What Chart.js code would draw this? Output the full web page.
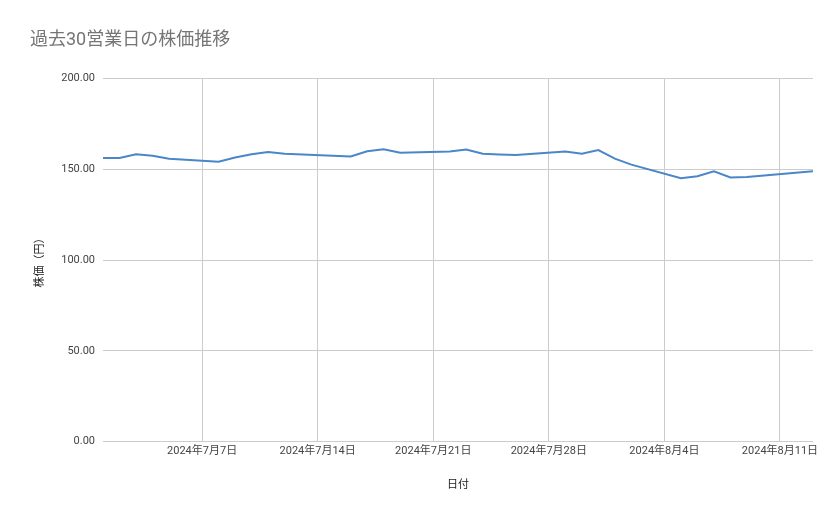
<!DOCTYPE html>
<html><head><meta charset="utf-8">
<script src="https://cdn.jsdelivr.net/npm/chart.js@4"></script>
<style>body{margin:0;background:#fff}#w{width:839px;height:519px}</style>
</head><body><div id="w"><canvas id="c"></canvas></div>
<script>
// day offsets from 2024-07-01
const dayOffsets=[0,1,2,3,4,7,8,9,10,11,15,16,17,18,21,22,23,24,25,28,29,30,31,32,35,36,37,38,39,43];
const prices=[156.2,156.2,158.3,157.5,155.9,154.2,156.5,158.3,159.5,158.6,157.1,160.0,161.1,159.1,159.8,160.9,158.6,158.2,157.9,159.8,158.6,160.6,155.9,152.6,145.1,146.2,148.9,145.5,145.8,148.9];
const tickDays=[6,13,20,27,34,41];
const tickLabels=['2024年7月7日','2024年7月14日','2024年7月21日','2024年7月28日','2024年8月4日','2024年8月11日'];
const yTicks=[0,50,100,150,200];
const font='Roboto, "Noto Sans CJK JP", sans-serif';
new Chart(document.getElementById('c'),{
type:'line',
data:{datasets:[{data:dayOffsets.map((d,i)=>({x:d,y:prices[i]})),borderColor:'#4a86c8',borderWidth:2,pointRadius:0,tension:0}]},
options:{responsive:true,maintainAspectRatio:false,animation:false,
layout:{padding:{left:30,right:26,top:8,bottom:23}},
plugins:{legend:{display:false},tooltip:{enabled:false},
title:{display:true,text:'過去30営業日の株価推移',align:'start',color:'#757575',font:{family:font,size:18,weight:'normal'},padding:{top:22,bottom:27}}},
scales:{
x:{type:'linear',min:0,max:43,
afterBuildTicks:s=>{s.ticks=tickDays.map(v=>({value:v}));},
ticks:{autoSkip:false,maxRotation:0,color:'#444',font:{family:font,size:11},callback:v=>tickLabels[tickDays.indexOf(v)]},
grid:{color:'#cccccc',drawTicks:false},border:{display:false},
title:{display:true,text:'日付',color:'#222',font:{family:font,size:11},padding:{top:18}}},
y:{min:0,max:200,
afterBuildTicks:s=>{s.ticks=yTicks.map(v=>({value:v}));},
ticks:{color:'#444',font:{family:font,size:11},padding:8,callback:v=>v.toFixed(2)},
grid:{color:'#cccccc',drawTicks:false},border:{display:false},
title:{display:true,text:'株価（円）',color:'#222',font:{family:font,size:11},padding:{bottom:6}}}
}}});
</script></body></html>
